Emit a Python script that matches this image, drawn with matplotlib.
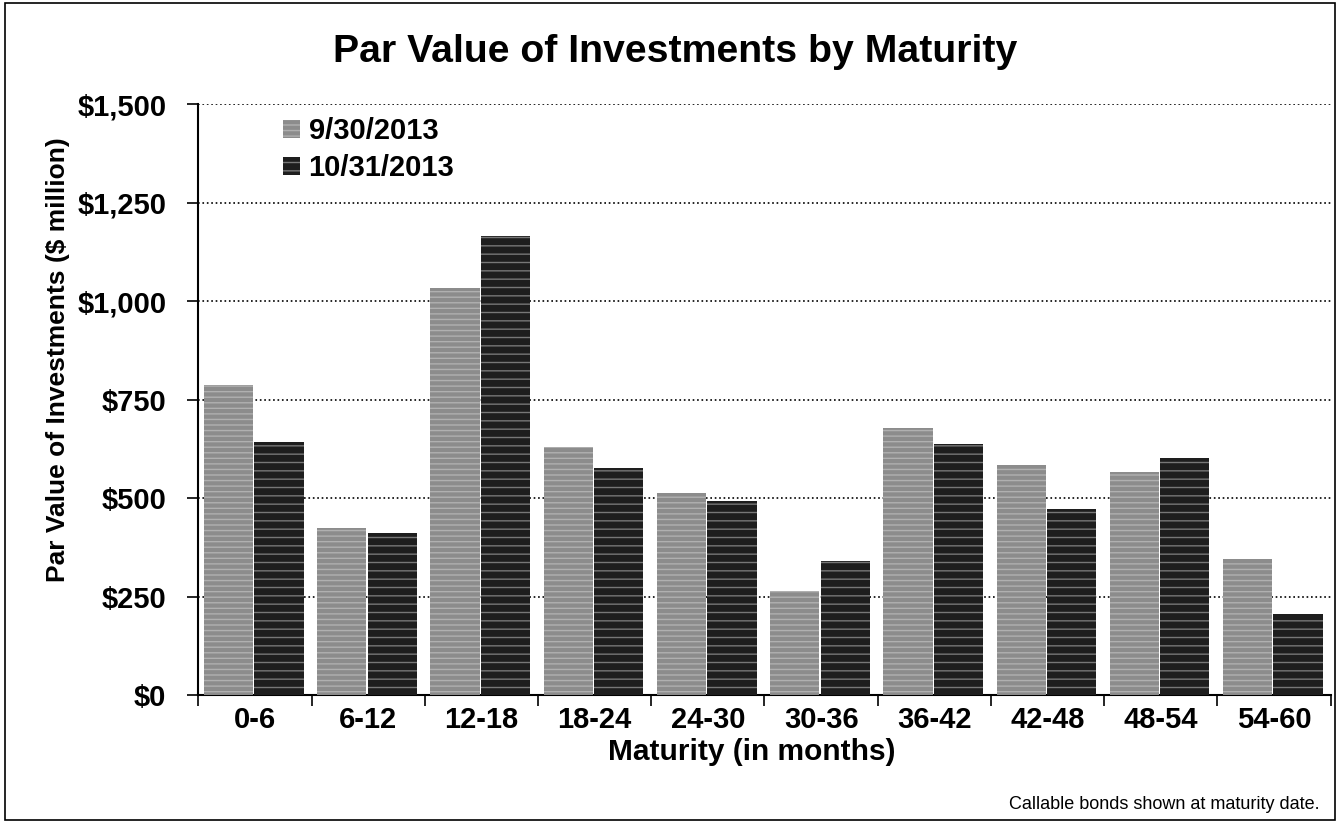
import numpy as np
import matplotlib.pyplot as plt
from matplotlib.patches import Rectangle

# Maturity buckets and par values ($ million)
buckets = ['0-6', '6-12', '12-18', '18-24', '24-30', '30-36', '36-42', '42-48', '48-54', '54-60']
sep_2013 = [787, 424, 1033, 629, 513, 264, 678, 584, 566, 345]
oct_2013 = [642, 411, 1165, 576, 492, 340, 637, 472, 601, 206]
y_ticks = [0, 250, 500, 750, 1000, 1250, 1500]
y_labels = ['$0', '$250', '$500', '$750', '$1,000', '$1,250', '$1,500']

plt.rcParams['font.family'] = ['Liberation Sans', 'DejaVu Sans']

fig = plt.figure(figsize=(13.4, 8.23), dpi=100)
ax = fig.add_axes([0.148, 0.1555, 0.845, 0.718])

x = np.arange(len(buckets))
w = 0.435
ax.bar(x - w / 2 - 0.015, sep_2013, w, color='#8c8c8c', edgecolor='#b0b0b0',
       hatch='---', linewidth=0, label='9/30/2013', zorder=3)
ax.bar(x + w / 2 - 0.005, oct_2013, w, color='#1e1e1e', edgecolor='#777777',
       hatch='--', linewidth=0, label='10/31/2013', zorder=3)

ax.set_xlim(-0.5, len(buckets) - 0.5)
ax.set_ylim(0, 1500)
ax.set_yticks(y_ticks)
ax.set_yticklabels(y_labels, fontsize=21, fontweight='bold')
ax.set_xticks(x)
ax.set_xticklabels(buckets, fontsize=21, fontweight='bold')
ax.tick_params(axis='x', length=0, pad=8)
ax.tick_params(axis='y', length=8, width=1.2, direction='out', pad=15)
# tick marks between categories
ax.set_xticks(np.arange(len(buckets) + 1) - 0.5, minor=True)
ax.tick_params(axis='x', which='minor', length=8, width=1.2, direction='out')

ax.yaxis.grid(True, linestyle=':', color='black', linewidth=1.2, zorder=0)
ax.set_axisbelow(True)
for s in ['top', 'right']:
    ax.spines[s].set_visible(False)
ax.spines['left'].set_linewidth(1.5)
ax.spines['bottom'].set_linewidth(1.5)

ax.set_ylabel('Par Value of Investments ($ million)', fontsize=19, fontweight='bold')
ax.yaxis.set_label_coords(-0.113, 0.567)
ax.set_xlabel('Maturity (in months)', fontsize=21.5, fontweight='bold')
ax.xaxis.set_label_coords(0.489, -0.072)
fig.text(0.504, 0.937, 'Par Value of Investments by Maturity', ha='center', va='center',
         fontsize=28.3, fontweight='bold')
fig.text(0.985, 0.012, 'Callable bonds shown at maturity date.', ha='right', va='bottom', fontsize=13)

ax.legend(loc='upper left', bbox_to_anchor=(0.052, 1.022), frameon=False,
          prop={'weight': 'bold', 'size': 21}, handlelength=0.58, handleheight=0.58,
          handletextpad=0.28, labelspacing=0.3)

fig.patches.append(Rectangle((0.004, 0.004), 0.992, 0.992, transform=fig.transFigure,
                             fill=False, edgecolor='black', linewidth=1.2))

fig.savefig('out.png', dpi=100)
